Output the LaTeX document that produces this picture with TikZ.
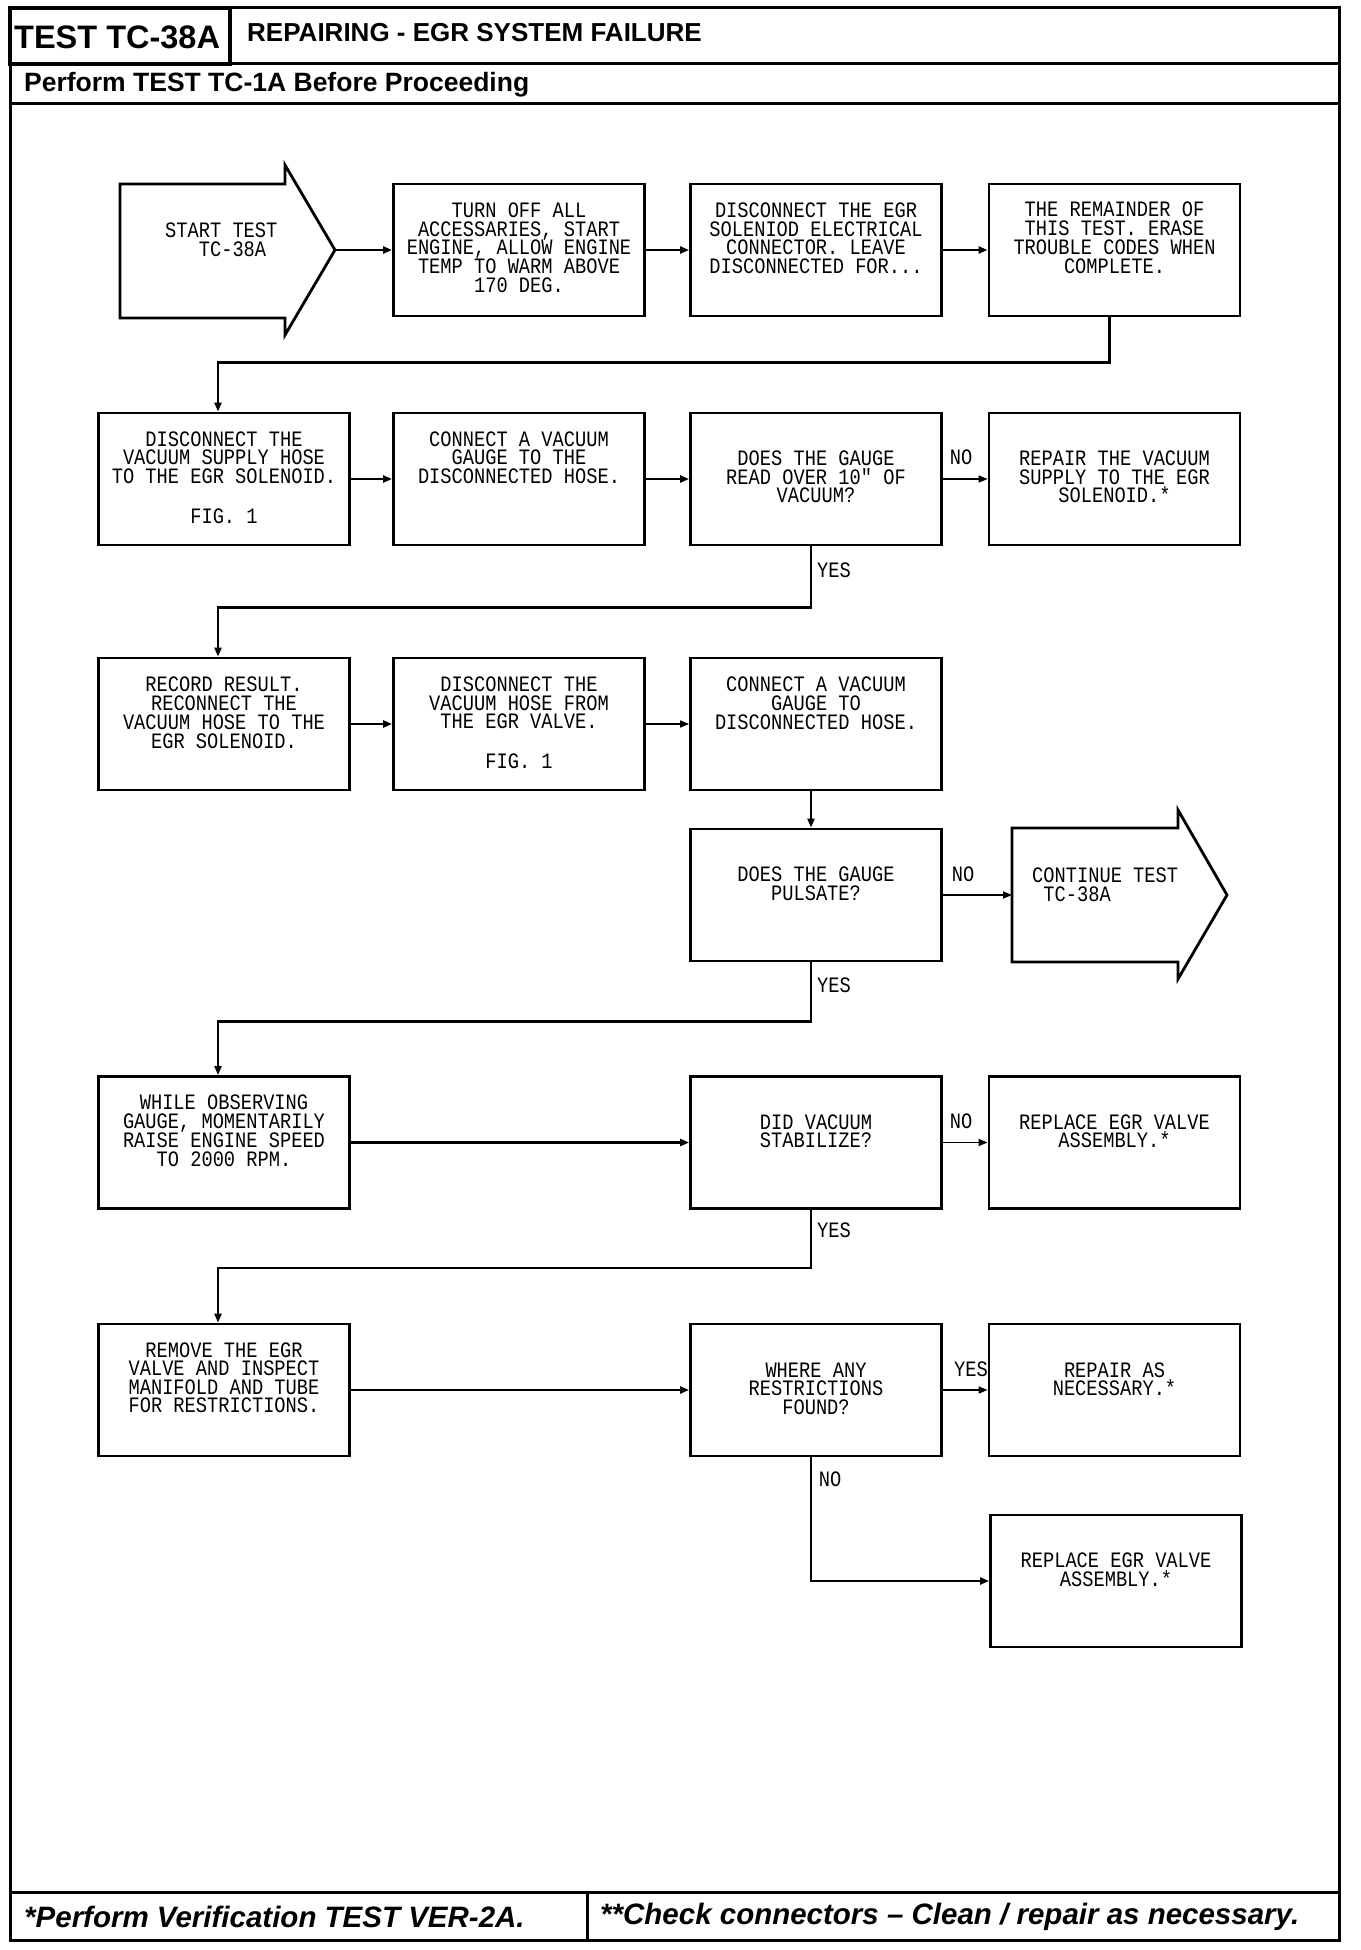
\documentclass[tikz,border=0pt]{standalone}
\usepackage{fontspec}
\setmainfont{Liberation Sans}
\newfontfamily\plotfont[FakeStretch=0.85]{Liberation Mono}
\usetikzlibrary{arrows.meta}
\newcommand\pf[1]{\plotfont\fontsize{22}{#1}\selectfont\lineskiplimit=-100pt\lineskip=0pt}
\begin{document}
\begin{tikzpicture}[x=1pt,y=-1pt,line join=miter,
  box/.style={draw,line width=2.8pt,minimum width=251pt,minimum height=132pt,inner sep=0pt},
  txt/.style={inner sep=0pt,align=center,anchor=north},
  lbl/.style={inner sep=0pt,font=\pf{18.6}},
  con/.style={line width=2.8pt,-{Triangle[length=9pt,width=7pt]}},
  conthin/.style={line width=1.5pt,-{Triangle[length=9pt,width=7pt]}},
  frame/.style={line width=3pt}]
\useasboundingbox (0,0) rectangle (1360,1950);
% ---------- frame, header, footer
\draw[frame] (10,8) rectangle (1339,1940);
\draw[line width=3.5pt] (10,8) rectangle (230,64);
\draw[frame] (230,64) -- (1339,64);
\draw[frame] (10,104) -- (1339,104);
\draw[frame] (10,1892) -- (1339,1892);
\draw[frame] (587,1892) -- (587,1940);
\node[anchor=west,inner sep=0pt,font=\bfseries\fontsize{32.5}{34}\selectfont] (ttl) at (14,37) {TEST TC-38A};
\node[anchor=west,inner sep=0pt,font=\bfseries\fontsize{26}{28}\selectfont] (rep) at (247,33) {REPAIRING - EGR SYSTEM FAILURE};
\node[anchor=west,inner sep=0pt,font=\bfseries\fontsize{26.5}{28}\selectfont] (perf) at (24,85) {Perform TEST TC-1A Before Proceeding};
\node[anchor=west,inner sep=0pt,font=\bfseries\itshape\fontsize{29.5}{31}\selectfont] (f1) at (24,1917) {*Perform Verification TEST VER-2A.};
\node[anchor=west,inner sep=0pt,font=\bfseries\itshape\fontsize{29.5}{31}\selectfont] (f2) at (600,1917) {**Check connectors -- Clean / repair as necessary.};
% ---------- start arrow
\draw[line width=2.8pt] (120,184) -- (285,184) -- (285,165) -- (335,250) -- (285,335) -- (285,318) -- (120,318) -- cycle;
\coordinate (stip) at (335,250);
\node[inner sep=0pt,anchor=north west,align=left,font=\pf{18.5}] (st) at (165,223) {START TEST\\\phantom{XXX}TC-38A};
% ---------- continue arrow
\draw[line width=2.8pt] (1012,828) -- (1178,828) -- (1178,810) -- (1227,895) -- (1178,979) -- (1178,962) -- (1012,962) -- cycle;
\coordinate (ctail) at (1012,895);
\node[inner sep=0pt,anchor=north west,align=left,font=\pf{18.5}] (ct) at (1032,868) {CONTINUE TEST\\\phantom{X}TC-38A};
% ---------- boxes
\node[box] (b2) at (519,250) {};
\node[box] (b3) at (816,250) {};
\node[box] (b4) at (1114.5,250) {};
\node[box] (b5) at (224,479) {};
\node[box] (b6) at (519,479) {};
\node[box] (b7) at (816,479) {};
\node[box] (b8) at (1114.5,479) {};
\node[box] (b9) at (224,724) {};
\node[box] (b10) at (519,724) {};
\node[box] (b11) at (816,724) {};
\node[box] (b12) at (816,895) {};
\node[box] (b13) at (224,1142.5) {};
\node[box] (b14) at (816,1142.5) {};
\node[box] (b15) at (1114.5,1142.5) {};
\node[box] (b16) at (224,1390) {};
\node[box] (b17) at (816,1390) {};
\node[box] (b18) at (1114.5,1390) {};
\node[box] (b19) at (1116,1581) {};
% ---------- box texts
\node[txt,font=\pf{18.8}] (t2) at ([yshift=-19.8pt]b2.north) {TURN OFF ALL\\ACCESSARIES, START\\ENGINE, ALLOW ENGINE\\TEMP TO WARM ABOVE\\170 DEG.};
\node[txt,font=\pf{18.8}] (t3) at ([yshift=-19.8pt]b3.north) {DISCONNECT THE EGR\\SOLENIOD ELECTRICAL\\CONNECTOR. LEAVE\\DISCONNECTED FOR...};
\node[txt,font=\pf{18.8}] (t4) at ([yshift=-19.2pt]b4.north) {THE REMAINDER OF\\THIS TEST. ERASE\\TROUBLE CODES WHEN\\COMPLETE.};
\node[txt,font=\pf{18.5}] (t5) at ([yshift=-19.8pt]b5.north) {DISCONNECT THE\\VACUUM SUPPLY HOSE\\TO THE EGR SOLENOID.\\[22pt]FIG. 1};
\node[txt,font=\pf{18.5}] (t6) at ([yshift=-19.8pt]b6.north) {CONNECT A VACUUM\\GAUGE TO THE\\DISCONNECTED HOSE.};
\node[txt,font=\pf{18.5}] (t7) at ([yshift=-39.2pt]b7.north) {DOES THE GAUGE\\READ OVER 10" OF\\VACUUM?};
\node[txt,font=\pf{18.5}] (t8) at ([yshift=-39.2pt]b8.north) {REPAIR THE VACUUM\\SUPPLY TO THE EGR\\SOLENOID.*};
\node[txt,font=\pf{19}] (t9) at ([yshift=-19.8pt]b9.north) {RECORD RESULT.\\RECONNECT THE\\VACUUM HOSE TO THE\\EGR SOLENOID.};
\node[txt,font=\pf{18.7}] (t10) at ([yshift=-19.8pt]b10.north) {DISCONNECT THE\\VACUUM HOSE FROM\\THE EGR VALVE.\\[21.5pt]FIG. 1};
\node[txt,font=\pf{19}] (t11) at ([yshift=-19.8pt]b11.north) {CONNECT A VACUUM\\GAUGE TO\\DISCONNECTED HOSE.};
\node[txt,font=\pf{18.5}] (t12) at ([yshift=-39.2pt]b12.north) {DOES THE GAUGE\\PULSATE?};
\node[txt,font=\pf{19}] (t13) at ([yshift=-19.8pt]b13.north) {WHILE OBSERVING\\GAUGE, MOMENTARILY\\RAISE ENGINE SPEED\\TO 2000 RPM.};
\node[txt,font=\pf{18.5}] (t14) at ([yshift=-39.2pt]b14.north) {DID VACUUM\\STABILIZE?};
\node[txt,font=\pf{18.5}] (t15) at ([yshift=-39.2pt]b15.north) {REPLACE EGR VALVE\\ASSEMBLY.*};
\node[txt,font=\pf{18.5}] (t16) at ([yshift=-19.8pt]b16.north) {REMOVE THE EGR\\VALVE AND INSPECT\\MANIFOLD AND TUBE\\FOR RESTRICTIONS.};
\node[txt,font=\pf{18.5}] (t17) at ([yshift=-39.8pt]b17.north) {WHERE ANY\\RESTRICTIONS\\FOUND?};
\node[txt,font=\pf{18.5}] (t18) at ([yshift=-39.8pt]b18.north) {REPAIR AS\\NECESSARY.*};
\node[txt,font=\pf{18.5}] (t19) at ([yshift=-39.2pt]b19.north) {REPLACE EGR VALVE\\ASSEMBLY.*};
% ---------- labels
\node[lbl] (no1) at (961,457) {NO};
\node[lbl] (yes1) at (834,570) {YES};
\node[lbl] (no2) at (963,874) {NO};
\node[lbl] (yes2) at (834,985) {YES};
\node[lbl] (no3) at (961,1121) {NO};
\node[lbl] (yes3) at (834,1230) {YES};
\node[lbl] (yes4) at (971,1369) {YES};
\node[lbl] (no4) at (830,1479) {NO};
% ---------- connectors
\draw[con] (stip) -- (b2.west);
\draw[con] (b2.east) -- (b3.west);
\draw[con] (b3.east) -- (b4.west);
\draw[con] ([xshift=-5pt]b4.south) -- ++(0,45) -| ([xshift=-6pt]b5.north);
\draw[con] (b5.east) -- (b6.west);
\draw[con] (b6.east) -- (b7.west);
\draw[conthin] (b7.east) -- (b8.west);
\draw[con] ([xshift=-5pt]b7.south) -- ++(0,61) -| ([xshift=-6pt]b9.north);
\draw[con] (b9.east) -- (b10.west);
\draw[conthin] (b10.east) -- (b11.west);
\draw[con] ([xshift=-5pt]b11.south) -- ([xshift=-5pt]b12.north);
\draw[conthin] (b12.east) -- (ctail);
\draw[con] ([xshift=-5pt]b12.south) -- ++(0,59) -| ([xshift=-6pt]b13.north);
\draw[con] (b13.east) -- (b14.west);
\draw[conthin] (b14.east) -- (b15.west);
\draw[con] ([xshift=-5pt]b14.south) -- ++(0,58) -| ([xshift=-6pt]b16.north);
\draw[con] (b16.east) -- (b17.west);
\draw[conthin] (b17.east) -- (b18.west);
\draw[con] ([xshift=-5pt]b17.south) |- (b19.west);
\end{tikzpicture}
\end{document}
